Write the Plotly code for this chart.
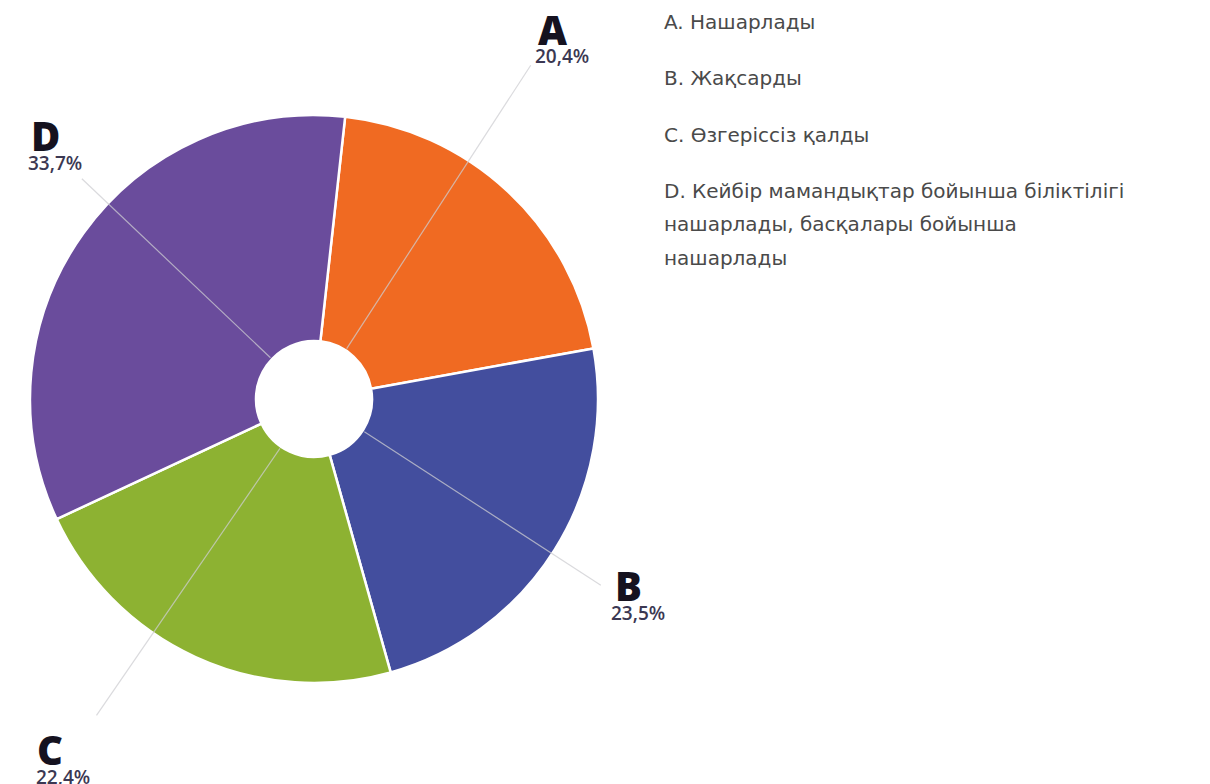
import math
import plotly.graph_objects as go

# Survey answers: share of respondents per option
letters = ["A", "B", "C", "D"]
shares = [20.4, 23.5, 22.4, 33.7]
descriptions = [
    "A. Нашарлады",
    "B. Жақсарды",
    "C. Өзгеріссіз қалды",
    "D. Кейбір мамандықтар бойынша біліктілігі<br>нашарлады, басқалары бойынша<br>нашарлады",
]

colors = ["#F06A22", "#434E9E", "#8DB232", "#6A4C9C"]

W, H = 1210, 784
CX, CY, R = 314, 399, 284          # pie centre and radius in px
HOLE = 58 / 284

# label placement (px): letter left/centre-y, percent left/centre-y
letter_pos = [(539, 27), (616, 583), (38, 747), (32, 134)]
pct_pos = [(536, 55), (612, 612), (37, 776), (29, 162)]
# leader lines: angle clockwise from 12 o'clock and outer radius (px)
leader_angle = [33, 123, 214.5, 313.5]
leader_outer = [398, 342, 384, 320]


def px(x):
    return x / W


def py(y):
    return 1 - y / H


fig = go.Figure(
    go.Pie(
        labels=letters,
        values=shares,
        sort=False,
        direction="clockwise",
        rotation=6.3,
        hole=HOLE,
        marker=dict(colors=colors, line=dict(color="white", width=2.5)),
        textinfo="none",
        hoverinfo="label+percent",
        showlegend=False,
        domain=dict(x=[px(CX - R), px(CX + R)], y=[py(CY + R), py(CY - R)]),
    )
)

shapes = []
annotations = []
for i, (lt, v) in enumerate(zip(letters, shares)):
    a = math.radians(leader_angle[i])
    r0, r1 = 60, leader_outer[i]
    x0, y0 = CX + r0 * math.sin(a), CY - r0 * math.cos(a)
    x1, y1 = CX + r1 * math.sin(a), CY - r1 * math.cos(a)
    shapes.append(dict(
        type="line", xref="paper", yref="paper",
        x0=px(x0), y0=py(y0), x1=px(x1), y1=py(y1),
        line=dict(color="rgba(205,205,210,0.75)", width=1.2),
        layer="above",
    ))
    lx, ly = letter_pos[i]
    annotations.append(dict(
        text=lt, x=px(lx), y=py(ly + 2), xref="paper", yref="paper",
        xanchor="left", yanchor="middle", showarrow=False,
        font=dict(family="Open Sans", size=40, color="#15121f", weight=800),
        xshift=-3,
    ))
    qx, qy = pct_pos[i]
    annotations.append(dict(
        text=f"{v:.1f}".replace(".", ",") + "%", x=px(qx), y=py(qy + 1),
        xref="paper", yref="paper", xanchor="left", yanchor="middle",
        showarrow=False,
        font=dict(family="Open Sans", size=19, color="#3b3852", weight=600),
        xshift=-3,
    ))

# description list on the right
item_y = [21, 77, 134, 190]
line_step = 33.5
for i, desc in enumerate(descriptions):
    for j, line in enumerate(desc.split("<br>")):
        annotations.append(dict(
            text=line, x=px(665), y=py(item_y[i] + j * line_step + 1),
            xref="paper", yref="paper", xanchor="left", yanchor="middle",
            showarrow=False, xshift=-3,
            font=dict(family="DejaVu Sans", size=20, color="#4a4a4a"),
        ))

fig.update_layout(
    width=W, height=H,
    margin=dict(l=0, r=0, t=0, b=0),
    paper_bgcolor="white",
    plot_bgcolor="white",
    shapes=shapes,
    annotations=annotations,
)

fig.write_html("out.html")
